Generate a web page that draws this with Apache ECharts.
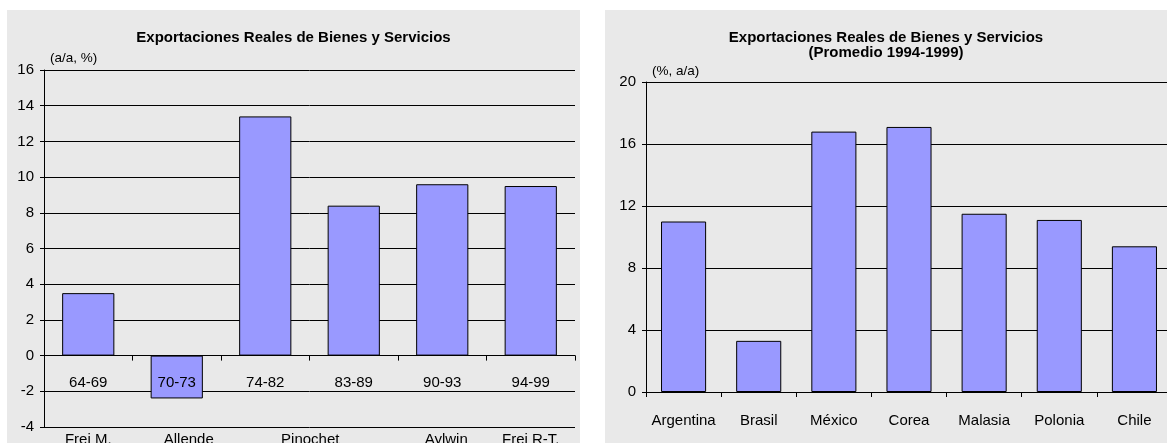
<!DOCTYPE html>
<html>
<head>
<meta charset="utf-8">
<script src="https://cdn.jsdelivr.net/npm/echarts@6/dist/echarts.min.js"></script>
<style>
  html, body { margin: 0; padding: 0; background: #fff; width: 1167px; height: 443px; overflow: hidden; }
  .panel { position: absolute; background: #e9e9e9; }
  #left { left: 7px; top: 10px; width: 573px; height: 433px; }
  #right { left: 605px; top: 10px; width: 562px; height: 433px; }
</style>
</head>
<body>
<div id="left" class="panel"></div>
<div id="right" class="panel"></div>
<script>
// Chile: real export growth by government period (a/a, %)
const periods = ['64-69', '70-73', '74-82', '83-89', '90-93', '94-99'];
const periodGrowth = [3.5, -2.4, 13.4, 8.4, 9.6, 9.5];
const governments = ['Frei M.', 'Allende', 'Pinochet', '', 'Aylwin', 'Frei R-T.'];
const leftTicks = { min: -4, max: 16, interval: 2 };

// Average real export growth 1994-1999 by country (%, a/a)
const countries = ['Argentina', 'Brasil', 'México', 'Corea', 'Malasia', 'Polonia', 'Chile'];
const countryGrowth = [11.0, 3.3, 16.8, 17.1, 11.5, 11.1, 9.4];
const rightTicks = { min: 0, max: 20, interval: 4 };

const FONT = '"Liberation Sans", Arial, sans-serif';
const BAR_COLOR = '#9999ff';
const labelStyle = { color: '#000', fontFamily: FONT, fontSize: 15 };

function titleOpt(text) {
  return {
    text: text,
    left: 'center',
    top: 15,
    textStyle: { color: '#000', fontFamily: FONT, fontSize: 15, fontWeight: 'bold', lineHeight: 15 }
  };
}

function valueAxis(ticks, unit, gap) {
  return {
    type: 'value',
    min: ticks.min, max: ticks.max, interval: ticks.interval,
    name: unit,
    nameLocation: 'end',
    nameGap: gap,
    nameTextStyle: { color: '#000', fontFamily: FONT, fontSize: 13.5, align: 'left', padding: [0, 0, 0, 6] },
    axisLine: { show: true, lineStyle: { color: '#000', width: 1 } },
    axisTick: { show: true, length: 4, lineStyle: { color: '#000' } },
    axisLabel: Object.assign({ margin: 10 }, labelStyle),
    splitLine: { show: true, lineStyle: { color: '#000', width: 1 } }
  };
}

const leftRect = { left: 37, top: 60, width: 531, height: 357, outerBoundsMode: 'none' };
// distance from the bottom of the plot up to the zero line
const zeroRise = leftRect.height * (0 - leftTicks.min) / (leftTicks.max - leftTicks.min);

const leftChart = echarts.init(document.getElementById('left'));
leftChart.setOption({
  animation: false,
  title: titleOpt('Exportaciones Reales de Bienes y Servicios'),
  // second grid shares the plot rectangle and carries the text rows of the category axis
  grid: [Object.assign({}, leftRect), Object.assign({}, leftRect)],
  xAxis: [
    {
      type: 'category',
      gridIndex: 0,
      data: periods,
      axisLine: { onZero: true, lineStyle: { color: '#000' } },
      axisTick: { show: true, length: 5, lineStyle: { color: '#000' } },
      axisLabel: { show: false }
    },
    {
      type: 'category',
      gridIndex: 1,
      data: governments.map(function (g) {
        if (g === 'Pinochet') return { value: g, textStyle: { padding: [0, 0, 0, 90] } };
        if (g === 'Allende') return { value: g, textStyle: { padding: [0, 0, 0, 24] } };
        if (g === 'Aylwin') return { value: g, textStyle: { padding: [0, 0, 0, 8] } };
        return g;
      }),
      position: 'bottom',
      axisLine: { show: false, onZero: false },
      axisTick: { show: false },
      axisLabel: Object.assign({ margin: 5, interval: 0 }, labelStyle)
    },
    {
      // period labels sit just under the zero line, drawn over the bars
      type: 'category',
      gridIndex: 1,
      data: periods,
      position: 'bottom',
      offset: -zeroRise,
      z: 10,
      axisLine: { show: false, onZero: false },
      axisTick: { show: false },
      axisLabel: Object.assign({ margin: 20, interval: 0, hideOverlap: false }, labelStyle)
    }
  ],
  yAxis: [
    Object.assign(valueAxis(leftTicks, '(a/a, %)', 5), { gridIndex: 0 }),
    {
      type: 'value', gridIndex: 1,
      min: leftTicks.min, max: leftTicks.max, interval: leftTicks.interval,
      show: false
    }
  ],
  series: [{
    type: 'bar',
    xAxisIndex: 0,
    yAxisIndex: 0,
    data: periodGrowth,
    barCategoryGap: '41%',
    itemStyle: { color: BAR_COLOR, borderColor: '#000', borderWidth: 1 }
  }]
});

const rightChart = echarts.init(document.getElementById('right'));
rightChart.setOption({
  animation: false,
  title: titleOpt('Exportaciones Reales de Bienes y Servicios\n(Promedio 1994-1999)'),
  grid: { left: 41, top: 72, width: 526, height: 310, outerBoundsMode: 'none' },
  xAxis: {
    type: 'category',
    data: countries,
    axisLine: { lineStyle: { color: '#000' } },
    axisTick: { show: true, length: 5, lineStyle: { color: '#000' } },
    axisLabel: Object.assign({ margin: 21, interval: 0 }, labelStyle)
  },
  yAxis: valueAxis(rightTicks, '(%, a/a)', 4),
  series: [{
    type: 'bar',
    data: countryGrowth,
    barCategoryGap: '40%',
    itemStyle: { color: BAR_COLOR, borderColor: '#000', borderWidth: 1 }
  }]
});
</script>
</body>
</html>
